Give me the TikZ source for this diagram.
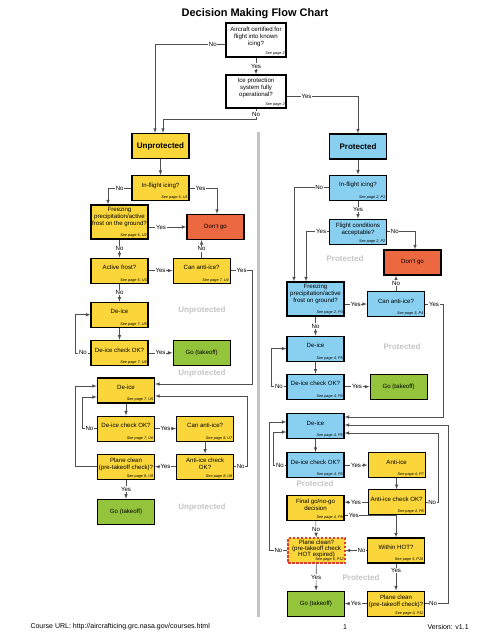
\documentclass[tikz,border=0pt]{standalone}
\usepackage{fontspec}
\setmainfont{Liberation Sans}
\usetikzlibrary{positioning}

\definecolor{boxyel}{RGB}{250,214,58}
\definecolor{boxblue}{RGB}{137,207,240}
\definecolor{boxred}{RGB}{236,104,64}
\definecolor{boxgreen}{RGB}{148,196,60}
\definecolor{ghostgray}{RGB}{196,196,196}
\definecolor{wire}{RGB}{80,80,80}
\definecolor{dashred}{RGB}{226,60,40}

\newcommand{\boxfont}{\fontsize{6.1}{7}\selectfont}
\newcommand{\pgfont}{\itshape\fontsize{3.8}{4}\selectfont}

\tikzset{
  box/.style={draw=black, line width=1.1pt, minimum width=57pt, minimum height=25pt,
    align=center, inner sep=0.5pt, text depth=6pt, font=\boxfont},
  ubox/.style={box, fill=boxyel},
  pbox/.style={box, fill=boxblue},
  stopbox/.style={box, fill=boxred, text depth=},
  gobox/.style={box, fill=boxgreen, text depth=},
  head/.style={font=\bfseries\fontsize{8}{9}\selectfont, text depth=},
  pgnote/.style={anchor=south east, inner sep=1.6pt, font=\pgfont},
  pg/.style={label={[pgnote]south east:See page #1}},
  lab/.style={fill=white, inner sep=0.7pt, font=\boxfont},
  link/.style={draw=wire, line width=0.6pt, ->, >=latex},
  ghost/.style={text=ghostgray, font=\bfseries\fontsize{8}{9}\selectfont}
}

\begin{document}
\begin{tikzpicture}[x=1pt, y=-1pt]
\useasboundingbox (0,0) rectangle (495,640);

  % divider
  \draw[line width=3pt, ghostgray] (258,132) -- (258,617);

  \node[font=\bfseries\fontsize{11}{13}\selectfont] (title) at (255,14) {Decision Making Flow Chart};

  % first two questions
  \node[box, minimum width=60pt, minimum height=34pt, text depth=8pt, pg={2}] (cert) at (256,40) {Aircraft certified for\\flight into known\\icing?};
  \node[box, minimum width=60pt, minimum height=33pt, text depth=8pt, pg={2}] (oper) at (256,91.5) {Ice protection\\system fully\\operational?};

  % Unprotected
  \node[ubox, head] (unp) at (160.5,146) {Unprotected};
  \node[ubox, below=16pt of unp, pg={6, U1}] (u-ice) {In-flight icing?};
  \node[ubox, minimum height=34pt, text depth=12pt, pg={6, U2}] (u-frz) at (119.5,222) {Freezing\\precipitation/active\\frost on the ground?};
  \node[stopbox] (u-stop) at (215.5,227) {Don't go};
  \node[ubox, below=18pt of u-frz, pg={6, U3}] (u-frost) {Active frost?};
  \node[ubox, right=24pt of u-frost, pg={7, U4}] (u-anti) {Can anti-ice?};
  \node[ubox, below=18pt of u-frost, pg={7, U5}] (u-deice) {De-ice};
  \node[ubox, below=12pt of u-deice, pg={7, U6}] (u-chk) {De-ice check OK?};
  \node[gobox, right=24pt of u-chk] (u-go) {Go (takeoff)};

  \node[ubox, pg={7, U5}] (u-deice2) at (126,390.5) {De-ice};
  \node[ubox, below=12pt of u-deice2, pg={7, U6}] (u-chk2) {De-ice check OK?};
  \node[ubox, right=21pt of u-chk2, pg={8, U7}] (u-canti) {Can anti-ice?};
  \node[ubox, below=12pt of u-canti, pg={8, U8}] (u-achk) {Anti-ice check\\OK?};
  \node[ubox, below=12pt of u-chk2, pg={8, U9}] (u-clean) {Plane clean\\(pre-takeoff check)?};
  \node[gobox, below=19pt of u-clean] (u-go2) {Go (takeoff)};

  % Protected
  \node[pbox, head] (prot) at (358,146.5) {Protected};
  \node[pbox, below=15pt of prot, pg={2, P1}] (p-ice) {In-flight icing?};
  \node[pbox, below=18pt of p-ice, pg={2, P2}] (p-cond) {Flight conditions\\acceptable?};
  \node[stopbox] (p-stop) at (412.5,262.5) {Don't go};
  \node[pbox, minimum height=34pt, text depth=12pt, pg={2, P3}] (p-frz) at (315.5,299) {Freezing\\precipitation/active\\frost on ground?};
  \node[pbox, pg={3, P4}] (p-anti) at (396,304) {Can anti-ice?};
  \node[pbox, below=19pt of p-frz, pg={4, P5}] (p-deice) {De-ice};
  \node[pbox, below=12pt of p-deice, pg={4, P6}] (p-chk) {De-ice check OK?};
  \node[gobox, right=25pt of p-chk] (p-go) {Go (takeoff)};

  \node[pbox, pg={4, P5}] (p-deice2) at (315.5,426) {De-ice};
  \node[pbox, below=13pt of p-deice2, pg={4, P6}] (p-chk2) {De-ice check OK?};
  \node[ubox, right=23pt of p-chk2, pg={4, P7}] (p-aice) {Anti-ice};
  \node[ubox, below=11pt of p-aice, pg={4, P8}] (p-achk) {Anti-ice check OK?};
  \node[ubox, pg={4, P9}] (p-final) at (315.5,508) {Final go/no-go\\decision};
  \node[ubox, pg={5, P10}] (p-hot) at (396,550.5) {Within HOT?};
  \node[ubox, draw=dashred, dash pattern=on 2.5pt off 1.5pt, font=\fontsize{6.1}{6.4}\selectfont, text depth=4.5pt, pg={6, P12}] (p-clean) at (316.5,550.5) {Plane clean?\\(pre-takeoff check\\HOT expired)};
  \node[ubox, below=27pt of p-hot, pg={6, P11}] (p-clean2) {Plane clean\\(pre-takeoff check)?};
  \node[gobox, left=22pt of p-clean2] (p-go2) {Go (takeoff)};

  % side captions
  \node[ghost] (g-u1) at (202,310) {Unprotected};
  \node[ghost] (g-u2) at (202,373) {Unprotected};
  \node[ghost] (g-u3) at (202,507) {Unprotected};
  \node[ghost] (g-p1) at (345,259) {Protected};
  \node[ghost] (g-p2) at (402,347) {Protected};
  \node[ghost] (g-p3) at (315,484) {Protected};
  \node[ghost] (g-p4) at (361,578) {Protected};

  % top edges
  \draw[link] (cert) -- node[lab]{Yes} (oper);
  \draw[link] ([yshift=-4pt]cert.west) -| node[lab, pos=0.09]{No} ([xshift=-5.5pt]unp.north);
  \draw[link] (oper.south) -- node[lab]{No} ++(0,11) -| ([xshift=2.5pt]unp.north);
  \draw[link] ([yshift=-4.5pt]oper.east) -| node[lab, pos=0.14]{Yes} (prot.north);

  % unprotected edges
  \draw[link] (unp) -- (u-ice);
  \draw[link] (u-ice.west) -| node[lab, pos=0.25]{No} ([xshift=-11.5pt]u-frz.north);
  \draw[link] (u-ice.east) -| node[lab, pos=0.2]{Yes} ([xshift=1.5pt]u-stop.north);
  \draw[link] (u-frz.east |- u-stop) -- node[lab, pos=0.33]{Yes} (u-stop.west);
  \draw[link] (u-frz) -- node[lab]{No} (u-frost);
  \draw[link] (u-frost) -- node[lab]{Yes} (u-anti);
  \draw[link] (u-anti.north) -- node[lab]{No} (u-anti.north |- u-stop.south);
  \draw[link] (u-anti.east) -- node[lab]{Yes} ++(22,0) |- ([yshift=6.5pt]u-deice2.east);
  \draw[link] (u-frost) -- node[lab]{No} (u-deice);
  \draw[link] (u-deice) -- (u-chk);
  \draw[link] (u-chk.west) -- node[lab]{No} ++(-15,0) |- (u-deice.west);
  \draw[link] (u-chk) -- node[lab]{Yes} (u-go);

  \draw[link] (u-deice2) -- (u-chk2);
  \draw[link] (u-chk2.west) -- node[lab]{No} ++(-15,0) |- ([yshift=-6.5pt]u-deice2.west);
  \draw[link] (u-clean.west) -- ++(-22,0) |- ([yshift=4.5pt]u-deice2.west);
  \draw[link] (u-chk2) -- node[lab]{Yes} (u-canti);
  \draw[link] (u-canti) -- (u-achk);
  \draw[link] (u-achk.west) -- node[lab]{Yes} (u-achk.west -| u-clean.east);
  \draw[link] (u-achk.east) -- node[lab]{No} ++(13,0) |- ([yshift=-5.5pt]u-deice2.east);
  \draw[link] (u-clean) -- node[lab]{Yes} (u-go2);

  % protected edges
  \draw[link] (prot) -- (p-ice);
  \draw[link] (p-ice.west) -| node[lab, pos=0.14]{No} ([xshift=-21.5pt]p-frz.north);
  \draw[link] (p-ice) -- node[lab]{Yes} (p-cond);
  \draw[link] (p-cond.west) -| node[lab, pos=0.17]{Yes} ([xshift=-9.5pt]p-frz.north);
  \draw[link] (p-cond.east) -| node[lab, pos=0.14]{No} ([xshift=2.5pt]p-stop.north);
  \draw[link] (p-frz.east |- p-anti) -- node[lab]{Yes} (p-anti.west);
  \draw[link] (p-anti.north) -- node[lab]{No} (p-anti.north |- p-stop.south);
  \draw[link] (p-anti.east) -- node[lab]{Yes} ++(18,0) |- ([yshift=9pt]p-deice2.east);
  \draw[link] (p-frz) -- node[lab]{No} (p-deice);
  \draw[link] (p-deice) -- (p-chk);
  \draw[link] (p-chk.west) -- node[lab]{No} ++(-15,0) |- (p-deice.west);
  \draw[link] (p-chk) -- node[lab]{Yes} (p-go);

  \draw[link] (p-deice2) -- (p-chk2);
  \draw[link] (p-chk2.west) -- node[lab]{No} ++(-13,0) |- ([yshift=-6pt]p-deice2.west);
  \draw[link] (p-clean.west) -- node[lab]{No} ++(-18,0) |- ([yshift=4pt]p-deice2.west);
  \draw[link] (p-chk2) -- node[lab]{Yes} (p-aice);
  \draw[link] (p-aice) -- (p-achk);
  \draw[link] (p-achk.west) -- node[lab]{Yes} (p-achk.west -| p-final.east);
  \draw[link] (p-achk.east) -- node[lab]{No} ++(13,0) |- ([yshift=-7pt]p-deice2.east);
  \draw[link] ([yshift=-7pt]p-final.east) -| node[lab, pos=0.09]{Yes} (p-hot.north);
  \draw[link] (p-final) -- node[lab]{No} (p-clean);
  \draw[link] (p-hot) -- node[lab, pos=0.25]{No} (p-clean);
  \draw[link] (p-hot) -- node[lab, pos=0.26]{Yes} (p-clean2);
  \draw[link] (p-clean) -- node[lab]{Yes} (p-go2);
  \draw[link] (p-clean2) -- node[lab]{Yes} (p-go2);
  \draw[link] (p-clean2.east) -- node[lab, pos=0.35]{No} ++(23,0) |- ([yshift=1pt]p-deice2.east);

  % footer
  \node[anchor=west, font=\fontsize{7}{8}\selectfont] (url) at (27,627) {Course URL: http://aircrafticing.grc.nasa.gov/courses.html};
  \node[font=\fontsize{7}{8}\selectfont] (pageno) at (345,627) {1};
  \node[anchor=west, font=\fontsize{7}{8}\selectfont] (version) at (424,627) {Version: v1.1};

\end{tikzpicture}
\end{document}
